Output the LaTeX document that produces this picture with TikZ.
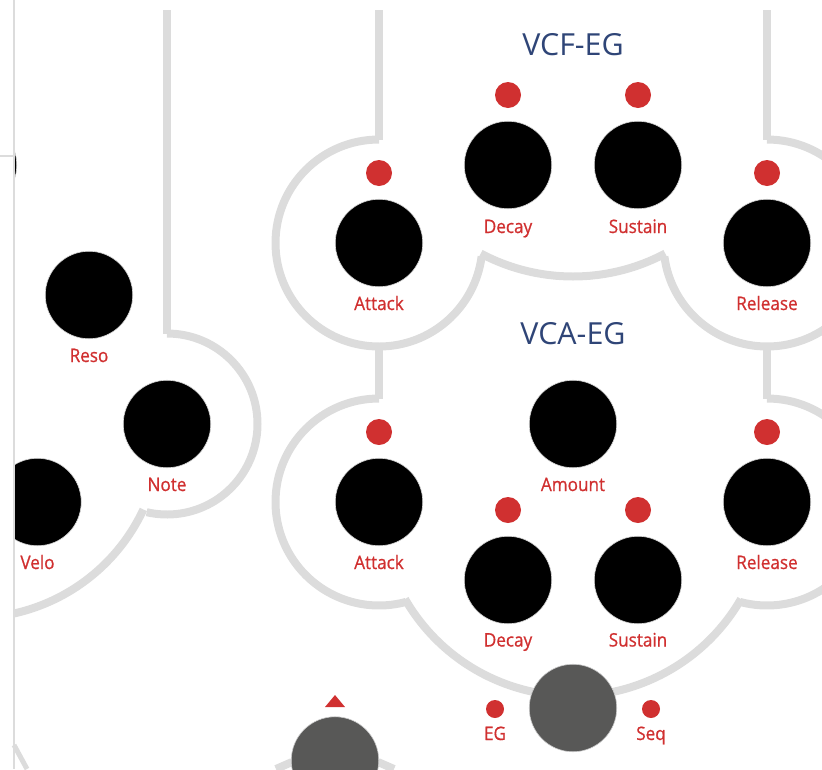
\documentclass[tikz,border=0pt]{standalone}
\usepackage{fontspec}
\setmainfont{Open Sans}
\newfontfamily\labfont[FakeBold=0.8,FakeStretch=0.92]{Open Sans}
\newfontfamily\ttlfont[FakeStretch=1.0]{Open Sans}
\definecolor{railc}{HTML}{DCDCDC}
\definecolor{redc}{HTML}{D03030}
\definecolor{bluec}{HTML}{2F4577}
\definecolor{grayk}{HTML}{585857}
\newcommand{\railarc}[5]{\draw[rail] ([shift={(#4:#3pt)}]#1,#2) arc[start angle=#4,end angle=#5,radius=#3pt];}
\tikzset{
  rail/.style={draw=railc,line width=8pt},
  thinrail/.style={draw=railc,line width=2.6pt},
  knob/.style={circle,fill=black,draw=black!15,line width=.6pt,minimum size=87.5pt,inner sep=0pt},
  gknob/.style={circle,fill=grayk,draw=black!20,line width=.6pt,minimum size=87.5pt,inner sep=0pt},
  led/.style={circle,fill=redc,minimum size=26pt,inner sep=0pt},
  sled/.style={circle,fill=redc,minimum size=18pt,inner sep=0pt},
  lab/.style={text=redc,font=\labfont\fontsize{18.6}{18.6}\selectfont,inner sep=0pt,anchor=base},
  ttl/.style={text=bluec,font=\ttlfont\fontsize{30.4}{30.4}\selectfont,inner sep=0pt,anchor=base},
}
\begin{document}
\begin{tikzpicture}[x=1pt,y=-1pt]
\useasboundingbox (0,0) rectangle (822,769);
\clip (0,0) rectangle (822,769);
% rails
\draw[rail] (167,10) -- (167,334);
\draw[rail] (379,10) -- (379,140);
\draw[rail] (767,10) -- (767,140);
\draw[rail] (379,346) -- (379,399);
\draw[rail] (767,346) -- (767,399);
\railarc{379}{243}{103.5}{90}{352.5}
\railarc{767}{243}{103.5}{90}{-172.5}
\railarc{573}{80}{196.5}{242}{298}
\railarc{379}{502}{103.5}{90}{285}
\railarc{767}{502}{103.5}{90}{-105}
\railarc{573}{502}{194}{210}{330}
\railarc{167}{424}{90.5}{90}{-103}
\begin{scope}
\clip (14,0) rectangle (822,769);
\railarc{-27}{430}{188}{-25}{-85}
\node[knob] (kv) at (37.5,502) {};
\node[knob] (kt) at (-27,165) {};
\end{scope}
\draw[thinrail] (0,156) -- (14,156);
\draw[thinrail] (14,0) -- (14,769);
\draw[rail,line width=5pt] (14,745) -- (27,769);
\draw[rail] (292,762) -- (276,769);
\draw[rail] (378,762) -- (394,769);
% knobs
\node[knob] (k1) at (379,243) {};
\node[knob] (k2) at (508,165) {};
\node[knob] (k3) at (638,165) {};
\node[knob] (k4) at (767,243) {};
\node[knob] (k5) at (379,502) {};
\node[knob] (k6) at (573,424) {};
\node[knob] (k7) at (508,580) {};
\node[knob] (k8) at (638,580) {};
\node[knob] (k9) at (767,502) {};
\node[knob] (k10) at (89,295) {};
\node[knob] (k11) at (167,424) {};
\node[gknob] (g1) at (573,708) {};
\node[gknob] (g2) at (335,760.5) {};
% leds
\node[led] (l1) at (379,173) {};
\node[led] (l2) at (508,95) {};
\node[led] (l3) at (638,95) {};
\node[led] (l4) at (767,173) {};
\node[led] (l5) at (379,432) {};
\node[led] (l6) at (767,432) {};
\node[led] (l7) at (508,510) {};
\node[led] (l8) at (638,510) {};
\node[sled] (s1) at (495,709) {};
\node[sled] (s2) at (651,709) {};
\fill[redc] (325,707) -- (335,695) -- (345,707) -- cycle;
% labels
\node[ttl] (t1) at (573,55) {VCF-EG};
\node[ttl] (t2) at (573,344) {VCA-EG};
\node[lab] (a1) at (379,310) {Attack};
\node[lab] (a2) at (508,233) {Decay};
\node[lab] (a3) at (638,233) {Sustain};
\node[lab] (a4) at (767,310) {Release};
\node[lab] (a5) at (379,569) {Attack};
\node[lab] (a6) at (573,491) {Amount};
\node[lab] (a7) at (508,646.5) {Decay};
\node[lab] (a8) at (638,646.5) {Sustain};
\node[lab] (a9) at (767,569) {Release};
\node[lab] (a10) at (89,362) {Reso};
\node[lab] (a11) at (167,491) {Note};
\node[lab] (a12) at (37.5,569) {Velo};
\node[lab] (a13) at (495,740) {EG};
\node[lab] (a14) at (651,740) {Seq};
\end{tikzpicture}
\end{document}
